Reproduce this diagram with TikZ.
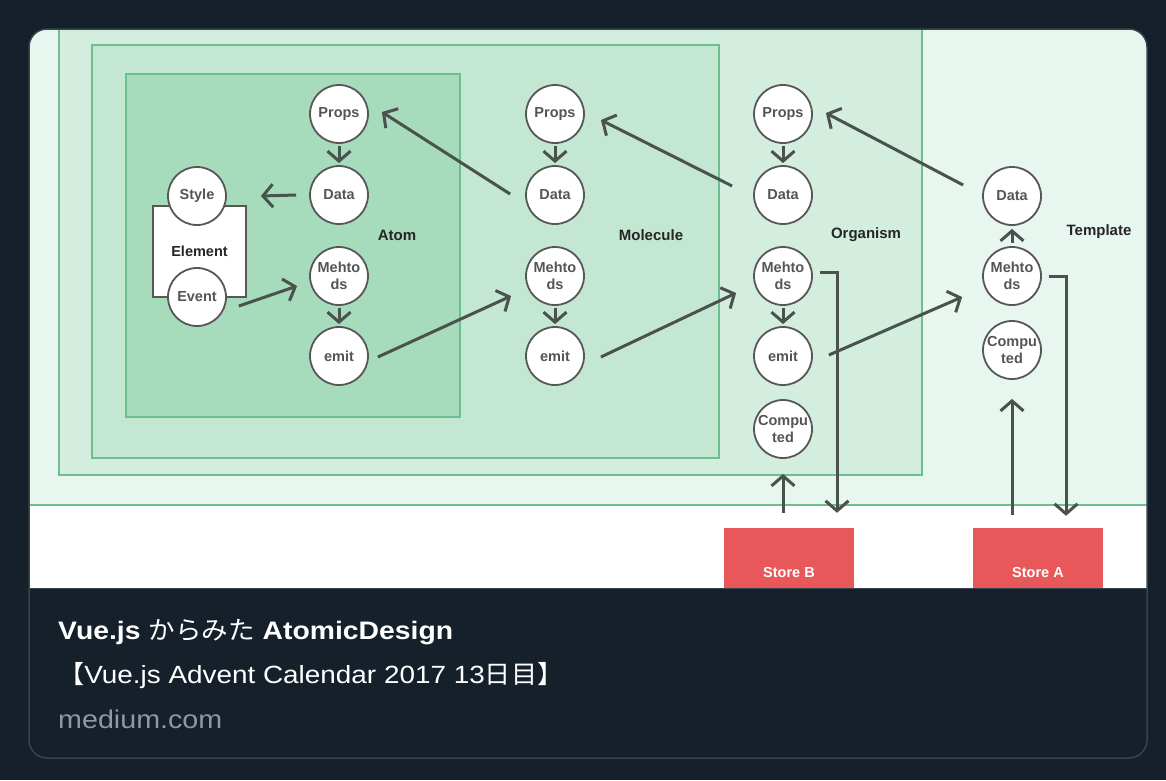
\documentclass[tikz,border=0pt]{standalone}
\usepackage{fontspec}
\setmainfont{Liberation Sans}
\newfontfamily\cardfont[FakeStretch=1.12]{Liberation Sans}
\newfontfamily\cjk[FakeStretch=1.05]{Noto Sans CJK JP}
\usetikzlibrary{arrows.meta,calc}
\definecolor{bgdark}{HTML}{16202A}
\definecolor{cardline}{HTML}{38444D}
\definecolor{tmplfill}{HTML}{E7F6EE}
\definecolor{orgfill}{HTML}{D3EEDF}
\definecolor{molfill}{HTML}{C3E7D2}
\definecolor{atomfill}{HTML}{A6DBBC}
\definecolor{boxline}{HTML}{6CC08F}
\definecolor{arrcol}{HTML}{4A524E}
\definecolor{circline}{HTML}{575757}
\definecolor{circtext}{HTML}{555555}
\definecolor{storered}{HTML}{E8585A}
\definecolor{urlgray}{HTML}{8B98A5}
\begin{document}
\begin{tikzpicture}[x=1pt,y=-1pt,
  circ/.style={circle, draw=circline, line width=1.8pt, fill=white, minimum size=58pt,
    inner sep=0pt, font=\fontsize{14.5}{17}\selectfont\bfseries, text=circtext, align=center},
  arr/.style={draw=arrcol, line width=3pt, -{Straight Barb[length=10pt,width=23pt]}},
  lbl/.style={font=\fontsize{15}{17}\selectfont\bfseries, text=black!85},
  region/.style={draw=boxline, line width=1.5pt},
  store/.style={fill=storered, minimum width=130pt, minimum height=88pt, inner sep=0pt,
    text=white, font=\fontsize{14.5}{16}\selectfont\bfseries},
  cardtext/.style={anchor=base west, inner sep=0pt, text=white, font=\cardfont\fontsize{24.9}{28}\selectfont}
]
\useasboundingbox (0,0) rectangle (1166,780);
\fill[bgdark] (0,0) rectangle (1166,780);
\begin{scope}
  \clip[rounded corners=18pt] (29,29) rectangle (1147,758);
  % outer (template) area
  \fill[tmplfill] (29,29) rectangle (1147,505);
  \fill[white] (29,505) rectangle (1147,588);
  \draw[boxline, line width=1.5pt] (29,505) -- (1147,505);
  % organism
  \filldraw[region, fill=orgfill] (59,15) rectangle (922,475);
  % molecule
  \filldraw[region, fill=molfill] (92,45) rectangle (719,458);
  % atom
  \filldraw[region, fill=atomfill] (126,74) rectangle (460,417);

  % labels
  \node[lbl] (lAtom) at (397,235) {Atom};
  \node[lbl] (lMol) at (651,235) {Molecule};
  \node[lbl] (lOrg) at (866,235) {Organism};
  \node[lbl] (lTpl) at (1099,232) {Template};

  % element
  \node[draw=circline, line width=1.8pt, fill=white, minimum width=93pt, minimum height=91pt,
    inner sep=0pt, font=\fontsize{14.5}{16}\selectfont\bfseries, text=black!85] (el) at (199.5,251.5) {Element};
  \node[circ] (sty) at (197,196) {Style};
  \node[circ] (ev) at (197,297) {Event};

  % atom column
  \node[circ] (aP) at (339,114) {Props};
  \node[circ] (aD) at (339,195) {Data};
  \node[circ] (aM) at (339,276) {Mehto\\ds};
  \node[circ] (aE) at (339,356) {emit};
  % molecule column
  \node[circ] (mP) at (555,114) {Props};
  \node[circ] (mD) at (555,195) {Data};
  \node[circ] (mM) at (555,276) {Mehto\\ds};
  \node[circ] (mE) at (555,356) {emit};
  % organism column
  \node[circ] (oP) at (783,114) {Props};
  \node[circ] (oD) at (783,195) {Data};
  \node[circ] (oM) at (783,276) {Mehto\\ds};
  \node[circ] (oE) at (783,356) {emit};
  \node[circ] (oC) at (783,429) {Compu\\ted};
  % template column
  \node[circ] (tD) at (1012,196) {Data};
  \node[circ] (tM) at (1012,276) {Mehto\\ds};
  \node[circ] (tC) at (1012,350) {Compu\\ted};

  % stores
  \node[store] (sB) at (789,572) {Store B};
  \node[store] (sA) at (1038,572) {Store A};

  % vertical arrows inside columns
  \foreach \c in {a,m,o}{
    \draw[arr, shorten <=2pt, shorten >=2pt] (\c P) -- (\c D);
    \draw[arr, shorten <=2pt, shorten >=2pt] (\c M) -- (\c E);
  }
  \draw[arr, shorten <=3pt, shorten >=3pt] (tM) -- (tD);

  % horizontal / diagonal arrows
  \draw[arr] ($(aD.west)+(-13,0)$) -- ($(sty.east)+(34,0)$);
  \draw[arr] ($(ev.east)+(12,9)$) -- ($(aM.west)+(-12,10)$);
  \draw[arr] ($(mD.west)+(-15,-1)$) -- ($(aP.east)+(13,-2)$);
  \draw[arr] ($(aE.east)+(9,1)$) -- ($(mM.west)+(-14,20)$);
  \draw[arr] ($(oD.west)+(-21,-9)$) -- ($(mP.east)+(16,6)$);
  \draw[arr] ($(mE.east)+(16,1)$) -- ($(oM.west)+(-17,17)$);
  \draw[arr] ($(tD.west)+(-19,-11)$) -- ($(oP.east)+(13,-1)$);
  \draw[arr] ($(oE.east)+(16,-1)$) -- ($(tM.west)+(-20,21)$);

  % store arrows
  \draw[arr] ($(oM.east)+(7,-4)$) -| ($(sB.north)+(48,-15)$);
  \draw[arr] ($(sB.north)+(-6,-15)$) -- ($(oC.south)+(0,15)$);
  \draw[arr] ($(tM.east)+(7,0)$) -| ($(sA.north)+(28,-12)$);
  \draw[arr] ($(sA.north)+(-26,-13)$) -- ($(tC.south)+(0,19)$);

  % lower card area
  \fill[bgdark] (29,588) rectangle (1147,760);
  \draw[cardline, line width=1pt] (29,588.5) -- (1147,588.5);
\end{scope}
\draw[cardline, line width=1.5pt, rounded corners=18pt] (29,29) rectangle (1147,758);

\node[cardtext, font=\cardfont\fontsize{25.3}{28}\selectfont\bfseries] (title) at (58,639) {Vue.js {\cjk\mdseries からみた} AtomicDesign};
\node[cardtext] (desc) at (58,683) {{\cjk 【}Vue.js Advent Calendar 2017 13{\cjk 日目】}};
\node[cardtext, text=urlgray, font=\cardfont\fontsize{25.6}{28}\selectfont] (url) at (58,728) {medium.com};
\end{tikzpicture}
\end{document}
